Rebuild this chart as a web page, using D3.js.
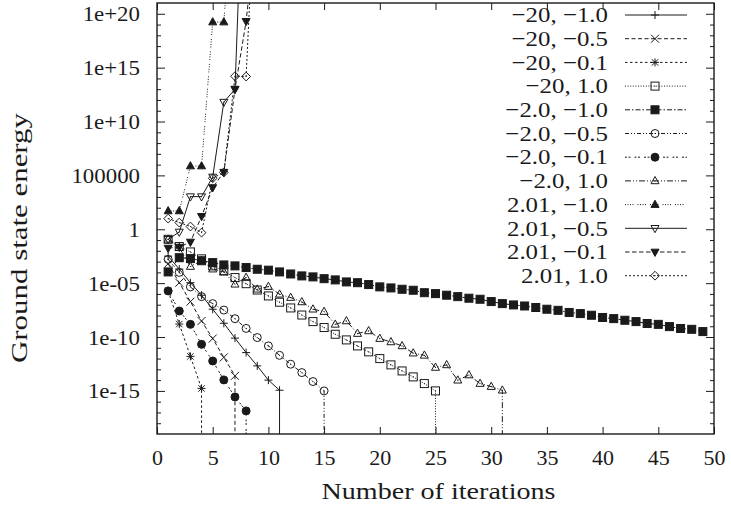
<!DOCTYPE html>
<html>
<head>
<meta charset="utf-8">
<script src="https://cdn.jsdelivr.net/npm/d3@7"></script>
<style>
  body { margin: 0; background: #fff; }
  svg text { font-family: "Liberation Serif", "Times New Roman", serif; fill: #1a1a1a; }
</style>
</head>
<body>
<div id="chart"></div>
<script>
// legend labels (a, b) of each run, in key order
const seriesLabels = [
  '\u221220, \u22121.0', '\u221220, \u22120.5', '\u221220, \u22120.1', '\u221220, 1.0',
  '\u22122.0, \u22121.0', '\u22122.0, \u22120.5', '\u22122.0, \u22120.1', '\u22122.0, 1.0',
  '2.01, \u22121.0', '2.01, \u22120.5', '2.01, \u22120.1', '2.01, 1.0'
];

// ground state energy per iteration (iteration 1, 2, 3, ...)
const energyM20M10 = [3.2e-3, 2.0e-4, 1.1e-5, 7.6e-7, 3.8e-8, 1.9e-9, 7.9e-11, 3.6e-12, 2.1e-13, 1.0e-14, 1.15e-15];
const energyM20M05 = [6.3e-4, 1.1e-5, 1.9e-7, 3.1e-9, 7.2e-11, 1.3e-12, 2.5e-14];
const energyM20M01 = [1.9e-6, 1.6e-9, 1.6e-12, 1.7e-15];
const energyM20P10 = [0.117, 2.5e-2, 7.9e-3, 1.8e-3, 4.0e-4, 1.35e-4, 3.3e-5, 8.9e-6, 2.3e-6, 6.5e-7,
  1.7e-7, 5.0e-8, 1.1e-8, 2.7e-9, 7.6e-10, 1.8e-10, 5.4e-11, 1.5e-11, 4.2e-12, 1.0e-12,
  2.6e-13, 7.1e-14, 2.0e-14, 4.8e-15, 1.0e-15];
const energyM2M10 = [1.1e-4, 2.3e-3, 1.9e-3, 1.2e-3, 8.1e-4, 4.9e-4, 4.0e-4, 2.8e-4, 1.95e-4, 1.6e-4,
  1.1e-4, 7.1e-5, 4.7e-5, 3.8e-5, 2.6e-5, 2.0e-5, 1.3e-5, 1.1e-5, 7.4e-6, 4.5e-6,
  3.6e-6, 2.7e-6, 2.2e-6, 1.3e-6, 1.07e-6, 7.6e-7, 5.6e-7, 4.0e-7, 3.2e-7, 1.95e-7,
  1.26e-7, 9.5e-8, 7.6e-8, 5.5e-8, 3.8e-8, 3.0e-8, 1.9e-8, 1.5e-8, 1.05e-8, 6.5e-9,
  5.1e-9, 3.6e-9, 2.7e-9, 1.8e-9, 1.5e-9, 9.3e-10, 6.2e-10, 5.2e-10, 3.2e-10];
const energyM2M05 = [1.6e-3, 1.0e-4, 4.5e-6, 5.6e-7, 1.26e-7, 3.2e-8, 5.0e-9, 6.3e-10, 8.9e-11, 1.5e-11,
  2.0e-12, 3.0e-13, 5.0e-14, 7.4e-15, 1.0e-15];
const energyM2M01 = [1.9e-6, 2.6e-8, 1.5e-9, 2.1e-11, 6.0e-13, 1.05e-14, 2.75e-16, 1.4e-17];
const energyM2P10 = [0.117, 2.0e-2, 3.5e-4, 1.26e-3, 2.0e-4, 1.1e-4, 7.9e-6, 3.3e-5, 2.7e-6, 4.8e-6,
  9.3e-7, 4.6e-7, 1.8e-7, 3.8e-8, 2.3e-8, 1.5e-9, 3.1e-9, 2.1e-10, 3.7e-10, 7.2e-11,
  3.5e-11, 1.5e-11, 3.2e-12, 2.0e-12, 1.5e-13, 2.6e-13, 9.8e-15, 3.0e-14, 4.8e-15, 2.5e-15,
  1.15e-15];
const energyP201M10 = [50, 50, 7.4e5, 7.4e5, 1.7e19, 1.7e19, 1e33];
const energyP201M05 = [0.117, 0.56, 1.07e3, 1.07e3, 7.1e4, 6.3e11, 1e13, 1e41];
const energyP201M01 = [1.8e-2, 2.2e-2, 6.6e-2, 16, 7.4e3, 2.0e5, 1e13, 2.0e19, 1e29];
const energyP201P10 = [9.8, 4.2, 1.8, 0.49, 5.4e4, 1.9e5, 1.6e14, 1.5e14, 1e36];

// runs whose energy became exactly zero after the last listed iteration
const reachesZero = [true, true, true, true, false, true, true, true, false, false, false, false];

const xTicks = [0, 5, 10, 15, 20, 25, 30, 35, 40, 45, 50];
const yTicks = [1e-15, 1e-10, 1e-5, 1, 1e5, 1e10, 1e15, 1e20];
const yTickLabels = ['1e-15', '1e-10', '1e-05', '1', '100000', '1e+10', '1e+15', '1e+20'];

const allEnergy = [energyM20M10, energyM20M05, energyM20M01, energyM20P10,
  energyM2M10, energyM2M05, energyM2M01, energyM2P10,
  energyP201M10, energyP201M05, energyP201M01, energyP201P10];

const markers = ['plus', 'cross', 'star', 'square', 'squareFill', 'circle', 'circleFill',
  'tri', 'triFill', 'triDown', 'triDownFill', 'diamond'];
const dashes = ['none', '4,2.5', '2.5,2.5', '1,1.6', '5,2,1.5,2', '4,2,1,2,1,2', '2,1.5,2,4',
  '6,2,1,2,1,2', '1,1.5,1,1.5,1,1.5,1,4', 'none', '4.5,2.5', '2,2'];

const width = 731;
const height = 506;
const plotLeft = 157, plotRight = 714, plotTop = 3, plotBottom = 434;
const ink = '#1a1a1a';
const fontSize = '22px';

const svg = d3.select('#chart').append('svg')
  .attr('width', width)
  .attr('height', height)
  .attr('viewBox', `0 0 ${width} ${height}`);

const x = d3.scaleLinear().domain([0, 50]).range([plotLeft, plotRight]);
const y = d3.scaleLog().domain([1e-19, 1e21]).range([plotBottom, plotTop]);

svg.append('clipPath').attr('id', 'plot-clip')
  .append('rect')
  .attr('x', plotLeft).attr('y', plotTop)
  .attr('width', plotRight - plotLeft).attr('height', plotBottom - plotTop);

// Computer Modern runs wider than Times, widen the text a little
function stretch(sel, k) {
  sel.each(function() {
    const w = this.getComputedTextLength();
    d3.select(this).attr('textLength', w * k).attr('lengthAdjust', 'spacingAndGlyphs');
  });
}

// axes, ticks point inwards on all four sides
const minorY = d3.range(-18, 21).map(e => Math.pow(10, e)).filter(v => !yTicks.includes(v));

function styleAxis(g) {
  g.select('.domain').remove();
  g.attr('font-size', null).attr('font-family', null);
  g.selectAll('line').attr('stroke', ink).attr('stroke-width', 1);
  g.selectAll('text')
    .attr('fill', ink)
    .style('font-size', fontSize)
    .style('font-family', '"Liberation Serif", serif');
}

svg.append('g')
  .attr('transform', `translate(0,${plotBottom})`)
  .call(d3.axisBottom(x).tickValues(xTicks).tickSize(-7).tickPadding(15))
  .call(styleAxis);

svg.append('g')
  .attr('transform', `translate(0,${plotTop})`)
  .call(d3.axisTop(x).tickValues(xTicks).tickSize(-7).tickFormat(''))
  .call(styleAxis);

const yAxisG = svg.append('g')
  .attr('transform', `translate(${plotLeft},0)`)
  .call(d3.axisLeft(y).tickValues(yTicks).tickSize(-8).tickPadding(17)
    .tickFormat((d, i) => yTickLabels[i]))
  .call(styleAxis);
yAxisG.selectAll('text').call(stretch, 1.04);

svg.append('g')
  .attr('transform', `translate(${plotLeft},0)`)
  .call(d3.axisLeft(y).tickValues(minorY).tickSize(-4).tickFormat(''))
  .call(styleAxis);

svg.append('g')
  .attr('transform', `translate(${plotRight},0)`)
  .call(d3.axisRight(y).tickValues(yTicks).tickSize(-8).tickFormat(''))
  .call(styleAxis);

svg.append('g')
  .attr('transform', `translate(${plotRight},0)`)
  .call(d3.axisRight(y).tickValues(minorY).tickSize(-4).tickFormat(''))
  .call(styleAxis);

// axis titles
svg.append('text')
  .attr('x', (plotLeft + plotRight) / 2 + 3)
  .attr('y', 499)
  .attr('text-anchor', 'middle')
  .style('font-size', '23px')
  .attr('textLength', 234)
  .attr('lengthAdjust', 'spacingAndGlyphs')
  .text('Number of iterations');

svg.append('text')
  .attr('transform', 'translate(27,238) rotate(-90)')
  .attr('text-anchor', 'middle')
  .style('font-size', '23px')
  .attr('textLength', 250)
  .attr('lengthAdjust', 'spacingAndGlyphs')
  .text('Ground state energy');

// point symbols
function drawMarker(g, type, cx, cy) {
  const r = 4;
  const sym = g.append('g').attr('transform', `translate(${cx},${cy})`)
    .attr('stroke', ink).attr('stroke-width', 1).attr('fill', 'none');
  const dot = () => sym.append('circle').attr('r', 0.6).attr('fill', ink).attr('stroke', 'none');
  switch (type) {
    case 'plus':
      sym.append('path').attr('d', `M${-r},0H${r}M0,${-r}V${r}`);
      break;
    case 'cross':
      sym.append('path').attr('d', `M${-r},${-r}L${r},${r}M${-r},${r}L${r},${-r}`);
      break;
    case 'star':
      sym.append('path').attr('d', `M${-r},0H${r}M0,${-r}V${r}M${-r * 0.8},${-r * 0.8}L${r * 0.8},${r * 0.8}M${-r * 0.8},${r * 0.8}L${r * 0.8},${-r * 0.8}`);
      break;
    case 'square':
      sym.append('rect').attr('x', -r).attr('y', -r).attr('width', 2 * r).attr('height', 2 * r);
      dot();
      break;
    case 'squareFill':
      sym.append('rect').attr('x', -r).attr('y', -r).attr('width', 2 * r).attr('height', 2 * r).attr('fill', ink);
      break;
    case 'circle':
      sym.append('circle').attr('r', r);
      dot();
      break;
    case 'circleFill':
      sym.append('circle').attr('r', r).attr('fill', ink);
      break;
    case 'tri':
      sym.append('path').attr('d', `M0,${-r * 1.1}L${r},${r * 0.7}L${-r},${r * 0.7}Z`);
      dot();
      break;
    case 'triFill':
      sym.append('path').attr('d', `M0,${-r * 1.1}L${r},${r * 0.7}L${-r},${r * 0.7}Z`).attr('fill', ink);
      break;
    case 'triDown':
      sym.append('path').attr('d', `M0,${r * 1.1}L${r},${-r * 0.7}L${-r},${-r * 0.7}Z`);
      dot();
      break;
    case 'triDownFill':
      sym.append('path').attr('d', `M0,${r * 1.1}L${r},${-r * 0.7}L${-r},${-r * 0.7}Z`).attr('fill', ink);
      break;
    case 'diamond':
      sym.append('path').attr('d', `M0,${-r * 1.1}L${r * 1.1},0L0,${r * 1.1}L${-r * 1.1},0Z`);
      dot();
      break;
  }
}

const plot = svg.append('g').attr('clip-path', 'url(#plot-clip)');
const line = d3.line();

allEnergy.forEach((vals, s) => {
  const pts = vals.map((v, k) => [x(k + 1), y(v)]);
  if (reachesZero[s]) pts.push([x(vals.length), plotBottom + 2]);
  plot.append('path')
    .attr('d', line(pts))
    .attr('fill', 'none')
    .attr('stroke', ink)
    .attr('stroke-width', 1)
    .attr('stroke-dasharray', dashes[s]);
  const mg = plot.append('g');
  vals.forEach((v, k) => drawMarker(mg, markers[s], x(k + 1), y(v)));
});

// key, top right
const rowH = 23.7;
const key = svg.append('g').attr('transform', 'translate(0,15)');
seriesLabels.forEach((lab, s) => {
  const ry = s * rowH;
  key.append('text')
    .attr('x', 608).attr('y', ry)
    .attr('dy', '0.33em')
    .attr('text-anchor', 'end')
    .style('font-size', fontSize)
    .text(lab)
    .call(stretch, 1.13);
  key.append('line')
    .attr('x1', 625).attr('x2', 687)
    .attr('y1', ry).attr('y2', ry)
    .attr('stroke', ink).attr('stroke-width', 1)
    .attr('stroke-dasharray', dashes[s]);
  drawMarker(key, markers[s], 655, ry);
});

// frame
svg.append('rect')
  .attr('x', plotLeft).attr('y', plotTop)
  .attr('width', plotRight - plotLeft).attr('height', plotBottom - plotTop)
  .attr('fill', 'none')
  .attr('stroke', ink)
  .attr('stroke-width', 1.4);
</script>
</body>
</html>
